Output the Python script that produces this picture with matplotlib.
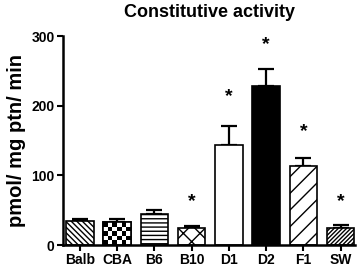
import matplotlib
matplotlib.use('Agg')
import matplotlib.pyplot as plt
import numpy as np

plt.rcParams['font.family'] = ['Liberation Sans', 'DejaVu Sans']
plt.rcParams['font.weight'] = 'bold'
plt.rcParams['hatch.linewidth'] = 1.0

strains = ['Balb', 'CBA', 'B6', 'B10', 'D1', 'D2', 'F1', 'SW']
means = [35, 33, 45, 25, 143, 228, 113, 24]
errs = [3, 5, 5, 3, 28, 25, 12, 5]
star_y = [None, None, None, 63, 213, 288, 163, 63]

hatches = ['\\\\\\\\\\\\', '', '----', 'xx', '', '', '//', '////////']
faces = ['white', 'white', 'white', 'white', 'white', 'black', 'white', 'white']

fig = plt.figure(figsize=(3.59, 2.69), dpi=100)
ax = fig.add_axes([0.175, 0.089, 0.815, 0.777])

x = np.arange(len(strains))
bars = ax.bar(x, means, width=0.74, color=faces, edgecolor='black',
              linewidth=1.2, hatch=hatches, zorder=2)
ax.errorbar(x, means, yerr=[np.zeros(len(errs)), errs], fmt='none',
            ecolor='black', elinewidth=1.6, capsize=6, capthick=1.6, zorder=1)

# checkerboard fill for CBA
b = bars[1]
checker = np.indices((5, 6)).sum(axis=0) % 2
im = ax.imshow(checker, cmap='gray', extent=[b.get_x(), b.get_x() + b.get_width(), 0, b.get_height()],
               aspect='auto', interpolation='nearest', zorder=2.5)
im.set_clip_path(b)
ax.bar(x[1], means[1], width=0.74, color='none', edgecolor='black', linewidth=1.2, zorder=3)

for xi, sy in zip(x, star_y):
    if sy is not None:
        ax.text(xi, sy, '*', ha='center', va='center', fontsize=14, fontweight='bold')

ax.set_xlim(-0.46, 7.4)
ax.set_ylim(0, 300)
ax.set_yticks([0, 100, 200, 300])
ax.set_xticks(x)
ax.set_xticklabels(strains)
ax.spines['top'].set_visible(False)
ax.spines['right'].set_visible(False)
for s in ['left', 'bottom']:
    ax.spines[s].set_linewidth(1.8)
ax.tick_params(width=1.5, length=4, labelsize=10, pad=2)
ax.set_ylabel('pmol/ mg ptn/ min', fontsize=14.5, fontweight='bold', labelpad=4)
ax.set_title('Constitutive activity', fontsize=13, fontweight='bold', pad=14)

fig.savefig('out.png', dpi=100)
